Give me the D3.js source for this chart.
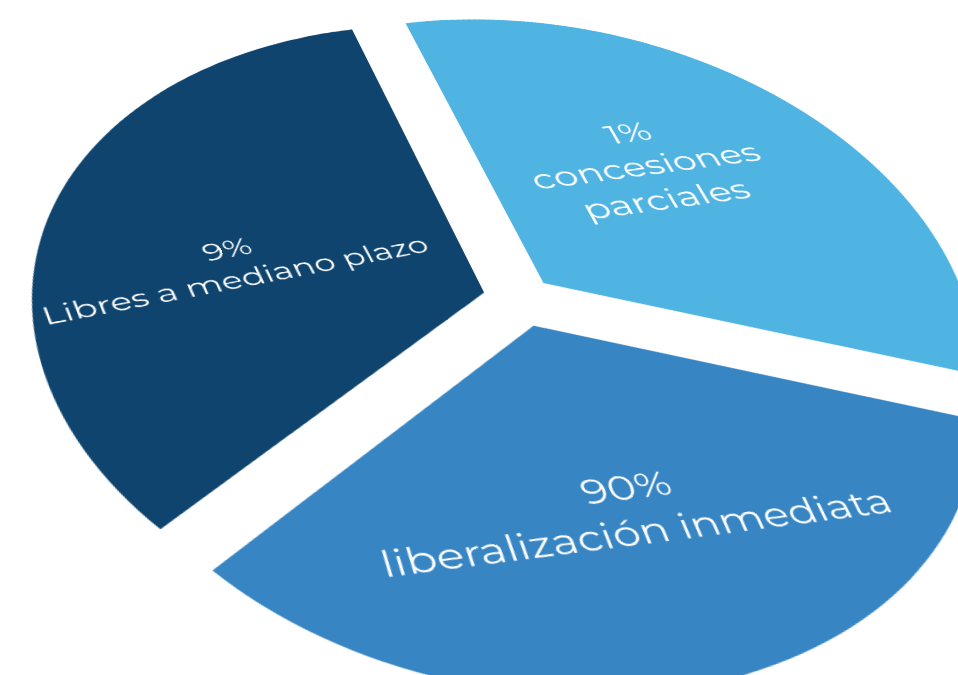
<!DOCTYPE html>
<html lang="es">

<head>
  <meta charset="UTF-8">
  <title>Liberalización arancelaria</title>
  <script src="https://d3js.org/d3.v7.min.js"></script>
  <style>
    body {
      margin: 0;
      background: #fff;
      overflow: hidden;
    }

    /* the flat pie is drawn in its own plane, then tilted towards the viewer */
    #pie {
      position: absolute;
      left: 0;
      top: 0;
      transform-origin: 0 0;
      transform: matrix3d(1.11474, -0.117981, 0, 0.000165347,
                          0.210757, 0.648437, 0, -0.000339666,
                          0, 0, 1, 0,
                          -142.346, 35.0766, 0, 1.08716);
    }

    .label {
      fill: #fff;
      font-family: Montserrat, "Open Sans", sans-serif;
      text-anchor: middle;
    }
  </style>
</head>

<body>
  <svg id="pie" width="1000" height="1000"></svg>

  <script>
    const categories = ["concesiones parciales", "liberalización inmediata", "Libres a mediano plazo"];
    const percentages = [1, 90, 9];
    const colors = ["#50b4e3", "#3785c3", "#0e446e"];

    // where each label block sits inside its slice (degrees / px in the pie plane)
    const labelLayout = [
      { angleShift: -7, radius: 202, size: 39, rotate: 1, wrap: true },
      { angleShift: -1, radius: 235, size: 37, rotate: 5, wrap: false },
      { angleShift: -10.5, radius: 222, size: 31, rotate: -3, wrap: false }
    ];

    const size = 1000;
    const radius = 400;
    const explode = 33.5;

    const data = categories.map((c, i) => ({ name: c, pct: percentages[i], color: colors[i], layout: labelLayout[i] }));

    // the graphic gives every share the same slice, only the labels carry the values
    const pie = d3.pie()
      .value(() => 1)
      .sort(null);

    const arc = d3.arc()
      .innerRadius(0)
      .outerRadius(radius);

    const offsetArc = d3.arc()
      .innerRadius(explode)
      .outerRadius(explode);

    const svg = d3.select("#pie")
      .append("g")
      .attr("transform", `translate(${size / 2}, ${size / 2})`);

    const slices = svg.selectAll(".slice")
      .data(pie(data))
      .enter()
      .append("g")
      .attr("class", "slice")
      .attr("transform", d => `translate(${offsetArc.centroid(d)})`);

    slices.append("path")
      .attr("d", arc)
      .attr("fill", d => d.data.color);

    const deg = Math.PI / 180;

    slices.each(function (d) {
      const lay = d.data.layout;
      const a = (d.startAngle + d.endAngle) / 2 + lay.angleShift * deg;
      const pos = d3.arc().innerRadius(lay.radius).outerRadius(lay.radius)
        .centroid({ startAngle: a, endAngle: a });

      const lines = [d.data.pct + "%"].concat(lay.wrap ? d.data.name.split(" ") : [d.data.name]);
      const lh = lay.size * 1.3;

      const text = d3.select(this).append("text")
        .attr("class", "label")
        .attr("font-size", lay.size)
        .attr("transform", `translate(${pos}) rotate(${lay.rotate})`);

      text.selectAll("tspan")
        .data(lines)
        .enter()
        .append("tspan")
        .attr("x", 0)
        .attr("y", (t, k) => (k - (lines.length - 1) / 2) * lh)
        .text(t => t);
    });
  </script>
</body>

</html>
